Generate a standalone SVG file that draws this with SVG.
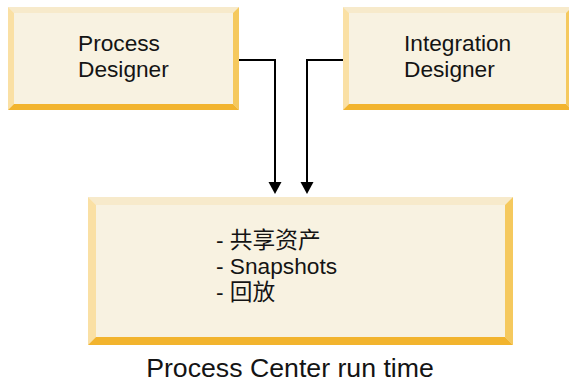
<svg xmlns="http://www.w3.org/2000/svg" width="569" height="383" viewBox="0 0 569 383">
<style>
.face{fill:#F8F2E1}
.bt{fill:#F7EACB}
.bl{fill:#FAE0A4}
.br{fill:#F5C95E}
.bb{fill:#F2B42E}
.lbl{font-family:"Liberation Sans",Arial,sans-serif;font-size:22.7px;fill:#141414}
.cjk{font-family:"Liberation Sans","Noto Sans CJK SC",sans-serif;font-size:22.7px;fill:#141414}
.cap{font-family:"Liberation Sans",Arial,sans-serif;font-size:26.7px;fill:#141414}
.conn{fill:none;stroke:#000;stroke-width:2}
</style>
<rect width="569" height="383" fill="#fff"/>
<g id="process-designer">
<rect class="face" x="8" y="7" width="231" height="103"/>
<polygon class="bt" points="8,7 239,7 233,13 14,13"/>
<polygon class="bl" points="8,7 14,13 14,104 8,110"/>
<polygon class="br" points="239,7 239,110 233,104 233,13"/>
<polygon class="bb" points="8,110 14,104 233,104 239,110"/>
<text class="lbl" x="78" y="51">Process</text>
<text class="lbl" x="78" y="77">Designer</text>
</g>
<g id="integration-designer">
<rect class="face" x="343" y="7" width="229" height="103"/>
<polygon class="bt" points="343,7 572,7 566,13 349,13"/>
<polygon class="bl" points="343,7 349,13 349,104 343,110"/>
<polygon class="br" points="572,7 572,110 566,104 566,13"/>
<polygon class="bb" points="343,110 349,104 566,104 572,110"/>
<text class="lbl" x="404" y="51">Integration</text>
<text class="lbl" x="404" y="77">Designer</text>
</g>
<g id="process-center">
<rect class="face" x="88" y="197" width="425" height="148"/>
<polygon class="bt" points="88,197 513,197 505,205 96,205"/>
<polygon class="bl" points="88,197 96,205 96,337 88,345"/>
<polygon class="br" points="513,197 513,345 505,337 505,205"/>
<polygon class="bb" points="88,345 96,337 505,337 513,345"/>
<text class="cjk" x="216" y="248">- 共享资产</text>
<text class="lbl" x="216" y="274">- Snapshots</text>
<text class="cjk" x="216" y="300">- 回放</text>
</g>
<g id="caption">
<text class="cap" x="290" y="377" text-anchor="middle">Process Center run time</text>
</g>
<g id="connectors">
<path class="conn" d="M239,60 H275 V183"/>
<polygon points="268.5,182 281.5,182 275,194" fill="#000"/>
<path class="conn" d="M343,60 H307 V183"/>
<polygon points="300.5,182 313.5,182 307,194" fill="#000"/>
</g>
</svg>
